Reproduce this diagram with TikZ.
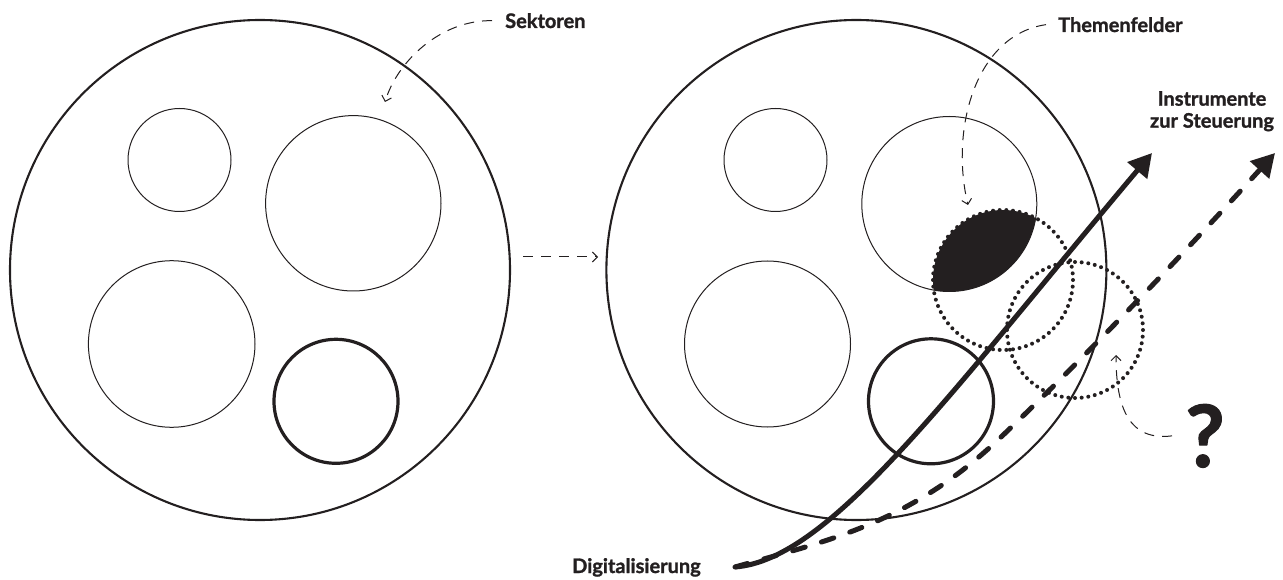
\documentclass[tikz,border=0pt]{standalone}
\usepackage{fontspec}
\setmainfont{Lato}[BoldFeatures={FakeBold=1.3}]
\usetikzlibrary{arrows.meta}
\definecolor{ink}{HTML}{231F20}
\begin{document}
\begin{tikzpicture}[x=1pt,y=-1pt,line join=round,
  thinc/.style={draw=ink,line width=1pt},
  bigc/.style={draw=ink,line width=2.1pt},
  boldc/.style={draw=ink,line width=3.2pt},
  dotmark/.style={fill=ink},
  pointer/.style={draw=ink,line width=1pt,dash pattern=on 10pt off 8pt,-{Straight Barb[length=5pt,width=10pt]}},
  solidarrow/.style={draw=ink,line width=5pt,-{Triangle[length=23pt,width=25pt]}},
  dasharrow/.style={draw=ink,line width=5pt,line cap=round,dash pattern=on 13pt off 17pt,-{Triangle[length=23pt,width=25pt]}},
  lbl/.style={inner sep=0pt,text=ink,font=\fontsize{20}{22}\selectfont\bfseries},
]
\useasboundingbox (0,0) rectangle (1283,580);

\coordinate (dc1) at (1003,280);
\coordinate (dc2) at (1075,330);
\coordinate (tf) at (949.3,204);

% ---- lens fill (intersection Themenfeld / dotted circle)
\begin{scope}
  \clip (tf) circle[radius=87.5pt];
  \fill[ink] (dc1) circle[radius=70pt];
\end{scope}

% ---- left diagram
\draw[bigc]  (260,270)   circle[radius=250pt];
\draw[thinc] (179.5,160) circle[radius=51.5pt];
\draw[thinc] (353.3,203.3) circle[radius=87.7pt];
\draw[thinc] (171.7,344) circle[radius=83.3pt];
\draw[boldc] (336,401.3) circle[radius=62pt];

% ---- right diagram
\draw[bigc]  (856.4,270) circle[radius=250pt];
\draw[thinc] (775.5,160) circle[radius=51.5pt];
\draw[thinc] (tf) circle[radius=87.5pt];
\draw[thinc] (767.5,344) circle[radius=83pt];
\draw[boldc] (931,401.3) circle[radius=62.5pt];

% ---- dotted circles
\foreach \i in {0,...,65}{
  \fill[dotmark] (dc1) ++({\i*5.4545}:70) circle[radius=2pt];
}
\foreach \i in {0,...,63}{
  \fill[dotmark] (dc2) ++({\i*5.625}:68) circle[radius=2pt];
}

% ---- labels
\node[lbl,anchor=base west] (sekt) at (505,28) {Sektoren};
\node[lbl,anchor=base west] (themen) at (1058,32) {Themenfelder};
\node[lbl,align=center,anchor=north] (instr) at (1212,91) {Instrumente\\zur Steuerung};
\node[lbl,anchor=base west] (digi) at (572,573) {Digitalisierung};
\node[inner sep=0pt,text=ink,font=\fontsize{86}{86}\selectfont\bfseries,anchor=base west] (qm) at (1185,467) {?};

% ---- coordinates
\coordinate (d0) at (735,567);
\coordinate (solidtip) at (1152,153);
\coordinate (dashmid) at (1000,438);
\coordinate (dashtip) at (1275,153);
\coordinate (sektip) at (385,102);
\coordinate (themtip) at (968,205);
\coordinate (qtip) at (1116,355);
\coordinate (m0) at (523,257);
\coordinate (m1) at (598,257);

% ---- big arrows
\draw[solidarrow] (d0) .. controls (830,560) and (950,393) .. (solidtip);
\draw[dasharrow] (d0) .. controls (827,541) and (910,523.5) .. (dashmid)
                      .. controls (1090,352.5) and (1185,252) .. (dashtip);

% ---- pointers
\draw[pointer] ([xshift=-13pt]sekt.west) .. controls (440,20) and (397,62) .. (sektip);
\draw[pointer] ([xshift=-12pt]themen.west) .. controls (975,35) and (950,130) .. (themtip);
\draw[pointer] ([xshift=-13pt]qm.west) .. controls (1130,441) and (1116,410) .. (qtip);
\draw[pointer] (m0) -- (m1);
\end{tikzpicture}
\end{document}
